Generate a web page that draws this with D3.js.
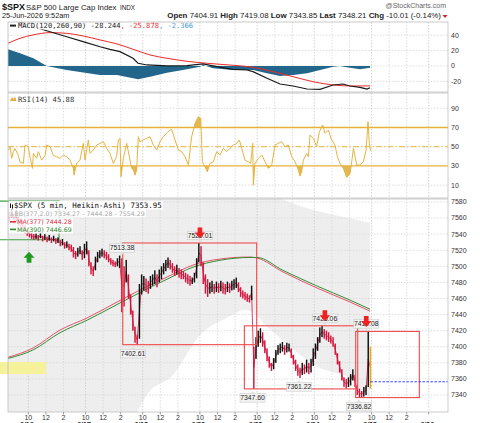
<!DOCTYPE html>
<html><head><meta charset="utf-8">
<script src="https://cdn.jsdelivr.net/npm/d3@7"></script>
<style>
html,body{margin:0;padding:0;background:#fff;}
svg{display:block;}
</style></head><body>
<svg id="c" width="480" height="423"></svg>
<script>
// ---------------- DATA ----------------
// time unit: trading hours since 6/16 09:30 (each session = 6.5 h)
const dayLabels = ["6/16","6/17","6/18","6/22","6/23","6/24","6/25","6/26"];
const tickHours = [0.5, 2.5, 4.5];
const tickText = ["10","12","2"];
const priceTicks = [7340,7360,7380,7400,7420,7440,7460,7480,7500,7520,7540,7560,7580];
const macdTicks = [-20,0,20,40];
const rsiTicks = [10,30,50,70,90];

// 15-minute Heikin-Ashi bars (high / low), first bar starts 6/15 14:15
const firstBarStart = -1.75, barHours = 0.25;
const hi615 = [7568,7572,7565,7570,7562,7560,7556];
const lo615 = [7556,7560,7552,7556,7550,7548,7545];
const hi616 = [7552,7547,7544,7542,7540,7541,7539,7542,7538,7540,7537,7539,7536,7538,7535,7536,7533,7534,7530,7531,7528,7527,7524,7519,7523,7525];
const lo616 = [7541,7538,7536,7534,7533,7534,7532,7535,7531,7533,7530,7532,7529,7531,7528,7529,7525,7526,7522,7523,7520,7518,7511,7509,7512,7515];
const hi617 = [7520,7528,7531,7520,7505,7500,7512,7518,7520,7522,7520,7518,7515,7510,7508,7506,7510,7513.38,7510,7500,7508,7490,7465,7445,7425,7415];
const lo617 = [7508,7510,7515,7500,7490,7488,7495,7505,7510,7512,7510,7508,7505,7502,7500,7499,7500,7498,7443,7450,7480,7460,7440,7420,7405,7402.61];
const hi618 = [7478,7490,7488,7485,7482,7488,7490,7495,7490,7496,7500,7504,7508,7511,7508,7504,7500,7502,7498,7496,7494,7492,7490,7488,7486,7492];
const lo618 = [7410,7465,7470,7468,7466,7472,7476,7478,7474,7480,7484,7490,7494,7498,7496,7492,7488,7490,7486,7484,7484,7480,7478,7476,7478,7480];
const hi622 = [7510,7529.01,7525,7505,7490,7484,7480,7482,7478,7481,7479,7482,7480,7478,7481,7479,7482,7484,7486,7480,7474,7470,7468,7466,7464,7476];
const lo622 = [7485,7505,7500,7478,7466,7462,7466,7468,7466,7468,7467,7469,7466,7465,7468,7467,7470,7471,7473,7468,7462,7460,7458,7456,7455,7458];
const hi623 = [7400,7412,7420,7423,7418,7408,7398,7388,7380,7386,7396,7402,7404,7406,7402,7405,7404,7398,7390,7384,7378,7374,7380,7378,7384,7380];
const lo623 = [7347.6,7385,7400,7405,7400,7392,7382,7374,7370,7372,7380,7390,7392,7394,7390,7393,7394,7386,7378,7370,7364,7361.22,7365,7366,7368,7366];
const hi624 = [7385,7398,7404,7412,7424,7426.06,7422,7420,7418,7414,7412,7404,7392,7382,7372,7362,7360,7362,7366,7372,7365,7352,7348,7345,7350,7352];
const lo624 = [7368,7376,7385,7395,7405,7412,7410,7408,7406,7404,7400,7390,7378,7368,7358,7350,7348,7350,7352,7358,7350,7340,7337,7336.82,7338,7340];
const hi625 = [7419.08,7400];
const lo625 = [7350,7348];
const lastLevel = 7356.5;

// moving averages / bollinger bands: [time, value]
const ma377 = [[-1.81,7386.9],[1.03,7398.4],[4.10,7420.8],[7.17,7435.8],[10.58,7455.6],[13.19,7470.6],[16.26,7486.7],[19.22,7501.6],[22.28,7509.1],[25.69,7511.6],[26.49,7510.3],[29.44,7493],[33.31,7473],[37.06,7455.6],[39.33,7444.28]];
const ma390 = [[-1.81,7385.5],[1.03,7396],[4.10,7417.5],[7.17,7433],[10.58,7452.5],[13.19,7467.5],[16.26,7484],[19.22,7499],[22.28,7507.5],[25.69,7511],[26.49,7511],[29.44,7495],[33.31,7475.5],[37.06,7458],[39.33,7446.69]];
const bbUpper = [[-1.81,7700],[10,7660],[20.01,7600],[23.08,7590],[26.03,7592],[28.8,7585],[31.37,7575],[35.13,7564],[39.33,7554.29]];
const bbLower = [[-1.81,7250],[8.65,7280],[12.82,7318],[13.95,7340],[16.94,7365],[20.01,7414.6],[23.08,7436],[25.13,7445.7],[26.03,7443],[27.63,7425],[29.44,7408],[31.37,7390],[33.31,7375],[35.13,7368],[36.7,7363],[37.63,7356],[38.42,7345],[39.33,7334.27]];

// MACD(120,260,90)
const macdLine = [[-1.81,62],[2.02,47.7],[4.86,38],[6.72,31.6],[8.65,25],[9.78,21.6],[10.92,18.6],[12.4,10],[12.97,3.5],[13.99,1.3],[16.26,0],[18.53,0.4],[20.35,2.6],[21.94,-0.9],[23.76,-4.3],[25.35,-5.2],[26.03,-7.4],[27.63,-16],[29.1,-23.4],[30.58,-26],[32.17,-29.9],[33.65,-30.3],[35.13,-24.7],[36.26,-23.4],[37.06,-26],[38.19,-27.7],[38.99,-29.9],[39.33,-28.244]];
const macdSignal = [[-1.81,29.4],[-0.44,36],[1.03,40.3],[2.97,43.3],[4.86,42.4],[6.72,39],[8.65,33.8],[10.58,28.6],[12.4,21.7],[14.33,14.3],[16.26,10],[18.53,6.1],[20.81,3.5],[23.76,0.9],[26.03,-1.7],[28.31,-7.4],[30.58,-13.9],[32.85,-20.4],[35.13,-24.7],[37.4,-26],[39.33,-25.878]];
const macdHist = [[-1.81,21.7],[-0.44,16.5],[1.07,9.9],[2.6,0],[4.86,-5.2],[8.65,-11.7],[10.58,-11.7],[12.97,-17.3],[14.33,-13.9],[16.26,-8.7],[18.53,-4.3],[20.01,-0.9],[20.35,1.3],[21.49,-3],[23.76,-5.2],[26.03,-5.2],[27.63,-9.5],[29.1,-13],[30.58,-11.7],[32.17,-9.5],[33.65,-5.2],[35.13,-0.9],[35.92,0],[36.7,-1.7],[38.19,-4.3],[39.33,-2.366]];

// RSI(14)
const rsi = [[-1.77,46.5],[-1.58,50],[-1.39,38],[-1.20,45],[-1.01,48],[-0.63,41],[-0.44,34],[-0.06,32.6],[0.12,51.7],[0.50,50],[0.69,39.6],[0.96,27.4],[1.07,43],[1.45,38],[1.64,44.8],[2.02,36],[2.40,41],[2.59,51.7],[2.97,50],[3.34,41],[3.72,39.6],[4.10,37.8],[4.48,41.3],[4.86,39.6],[5.24,36],[5.62,27.4],[5.69,20.4],[6.00,32.6],[6.37,36],[6.75,53.5],[6.94,36],[7.32,57],[7.51,43],[7.89,46.5],[8.27,51.7],[8.65,53.5],[9.03,55.2],[9.41,48.3],[9.78,43],[10.16,32.6],[10.54,39.6],[10.73,57],[10.92,58.7],[11.03,18.7],[11.30,37.8],[11.68,53.5],[11.98,39.6],[12.25,27.4],[12.44,25.7],[12.62,20.4],[12.81,25.7],[13.00,60.4],[13.19,55.2],[13.57,57],[13.95,58.7],[14.33,60.4],[14.71,51.7],[15.09,46.5],[15.47,55.2],[15.84,60.4],[16.22,64],[16.60,67.4],[16.79,68],[17.17,57],[17.55,46.5],[17.93,44.8],[18.31,39.6],[18.69,30.9],[19.06,60.4],[19.44,74.3],[19.82,81.3],[20.09,79.6],[20.28,34.3],[20.58,29.1],[20.84,23.9],[21.15,32.6],[21.53,34.3],[21.90,44.8],[22.28,41.3],[22.66,48.3],[23.04,44.8],[23.42,48.3],[23.80,51.7],[24.18,53.5],[24.48,57],[24.75,48.3],[25.12,36],[25.50,34.3],[25.77,32.6],[26.00,53.5],[26.07,10],[26.26,32.6],[26.64,37.8],[27.02,41.3],[27.40,34.3],[27.78,27.4],[28.16,30.9],[28.53,51.7],[28.91,53.5],[29.29,55.2],[29.67,50],[30.05,51.7],[30.43,39.6],[30.81,34.3],[31.19,25.7],[31.37,19.4],[31.56,23.9],[31.75,36],[32.13,43],[32.32,39.6],[32.51,62.2],[32.89,58.7],[33.27,50],[33.57,65.6],[33.95,72.6],[34.22,63.9],[34.59,67.4],[34.97,57],[35.35,51.7],[35.62,39.6],[35.92,32.6],[36.30,27.4],[36.68,18],[37.06,22.2],[37.25,34.3],[37.44,48.3],[37.82,30.9],[38.19,30.9],[38.57,34.3],[38.88,46.5],[39.10,76.1],[39.25,53.5],[39.40,45.88]];

// annotations
const peakLabels = [{t:11.15,v:7513.38,arrow:false},{t:20.0,v:7529.01,arrow:true},{t:34.2,v:7426.06,arrow:true},{t:38.9,v:7419.08,arrow:true}];
const troughLabels = [{t:12.4,v:7402.61},{t:25.98,v:7347.60},{t:31.26,v:7361.22},{t:38.08,v:7336.82}];
const redBoxes = [{t0:11.23,t1:26.45,hi:7529.01,lo:7402.61},{t0:25.05,t1:37.93,hi:7426.06,lo:7347.60},{t0:37.70,t1:44.93,hi:7419.08,lo:7336.82}];
const greenBox = {t0:-4.5,t1:3.99,hi:7581,lo:7533};
const yellowZone = {t0:-4.5,t1:2.51,hi:7381,lo:7366};
const buyArrow = {t:0.58,v:7518};

// ---------------- SCALES ----------------
const L = 8, R = 448;
const P = {macd:[22,92], rsi:[93,198], price:[199,412]};
const x = d3.scaleLinear().domain([-1.81,48.19]).range([L,R]);
const yM = d3.scaleLinear().domain([-33.8,57.1]).range([P.macd[1],P.macd[0]]);
const yR = d3.scaleLinear().domain([-3.4,105.9]).range([P.rsi[1],P.rsi[0]]);
const yP = d3.scaleLinear().domain([7318.9,7583.7]).range([P.price[1],P.price[0]]);

const svg = d3.select("#c");
const SANS = "'Liberation Sans',Arial,sans-serif";
const MONO = "'DejaVu Sans Mono',monospace";
const VER = "'DejaVu Sans',Verdana,sans-serif";
const defs = svg.append("defs");
function clip(id, y0, y1, x0=L, x1=R){
  defs.append("clipPath").attr("id",id).append("rect").attr("x",x0).attr("y",y0).attr("width",x1-x0).attr("height",y1-y0);
  return "url(#"+id+")";
}
const cM = clip("cm",P.macd[0],P.macd[1]);
const cR = clip("cr",P.rsi[0],P.rsi[1]);
const cP = clip("cp",P.price[0],P.price[1]);

// ---------------- HEADER ----------------
const hdr = svg.append("g");
hdr.append("text").attr("x",2).attr("y",10).attr("font-family",SANS).attr("font-weight","bold").attr("font-size",9).attr("fill","#111").text("$SPX");
hdr.append("text").attr("x",26).attr("y",10).attr("font-family",SANS).attr("font-size",7.8).attr("fill","#222").text("S&P 500 Large Cap Index");
hdr.append("text").attr("x",120).attr("y",10).attr("font-family",SANS).attr("font-size",6.3).attr("fill","#222").text("INDX");
hdr.append("text").attr("x",2).attr("y",18).attr("font-family",SANS).attr("font-size",7.3).attr("fill","#222").text("25-Jun-2026 9:52am");
hdr.append("text").attr("x",446).attr("y",8).attr("text-anchor","end").attr("font-family",SANS).attr("font-size",7).attr("fill","#666").text("@StockCharts.com");
const ohlc = hdr.append("text").attr("x",441).attr("y",18).attr("text-anchor","end").attr("font-family",SANS).attr("font-size",7.9).attr("fill","#222");
[["Open","7404.91"],["High","7419.08"],["Low","7343.85"],["Last","7348.21"],["Chg","-10.01 (-0.14%)"]].forEach((p,i)=>{
  ohlc.append("tspan").attr("font-weight","bold").text((i?" ":"")+p[0]);
  ohlc.append("tspan").text(" "+p[1]);
});
hdr.append("path").attr("d",`M442.5,15 L447.5,15 L445,18 Z`).attr("fill","#e02020");

// ---------------- PANEL BACKGROUNDS ----------------
Object.values(P).forEach(p=>{
  svg.append("rect").attr("x",L).attr("y",p[0]).attr("width",R-L).attr("height",p[1]-p[0]).attr("fill","#fff");
});

// Bollinger band fill (price panel)
const gP = svg.append("g").attr("clip-path",cP);
gP.append("path").datum(bbUpper).attr("fill","#eeeeee")
  .attr("d",d3.area().x(d=>x(d[0])).y0(P.price[1]+5).y1(d=>yP(d[1])).curve(d3.curveMonotoneX));
gP.append("path").datum(bbLower).attr("fill","#ffffff")
  .attr("d",d3.area().x(d=>x(d[0])).y0(P.price[1]+5).y1(d=>yP(d[1])).curve(d3.curveMonotoneX));

// ---------------- GRID ----------------
const gridT = [];
dayLabels.forEach((d,i)=>{
  tickHours.forEach((h,j)=>{
    const t = i*6.5+h;
    if (i===dayLabels.length-1 && j>0) return;
    gridT.push({t, label: (i===dayLabels.length-1)?null:tickText[j], first:j===0, day:d});
  });
});
const grid = svg.append("g");
Object.values(P).forEach(p=>{
  gridT.forEach(g=>{
    grid.append("line").attr("x1",x(g.t)).attr("x2",x(g.t)).attr("y1",p[0]).attr("y2",p[1])
      .attr("stroke",g.first?"#c8c8c8":"#d6d6d6").attr("stroke-width",0.8).attr("stroke-dasharray","1.5,1.5");
  });
});
function hgrid(ticks, y){
  ticks.forEach(v=>{
    grid.append("line").attr("x1",L).attr("x2",R).attr("y1",y(v)).attr("y2",y(v))
      .attr("stroke","#d6d6d6").attr("stroke-width",0.8).attr("stroke-dasharray","1.5,1.5");
  });
}
hgrid(priceTicks, yP); hgrid(macdTicks, yM); hgrid([10,90], yR);

// ---------------- MACD ----------------
const gM = svg.append("g").attr("clip-path",cM);
gM.append("path").datum(macdHist).attr("fill","#22668b")
  .attr("d",d3.area().x(d=>x(d[0])).y0(yM(0)).y1(d=>yM(d[1])));
gM.append("path").datum(macdSignal).attr("fill","none").attr("stroke","#f02a2a").attr("stroke-width",1)
  .attr("d",d3.line().x(d=>x(d[0])).y(d=>yM(d[1])).curve(d3.curveMonotoneX));
gM.append("path").datum(macdLine).attr("fill","none").attr("stroke","#1a1a1a").attr("stroke-width",1.2)
  .attr("d",d3.line().x(d=>x(d[0])).y(d=>yM(d[1])));

// ---------------- RSI ----------------
const gR = svg.append("g").attr("clip-path",cR);
const rsiGold = "#e8b23a";
defs.append("clipPath").attr("id","r70").append("rect").attr("x",L).attr("y",P.rsi[0]).attr("width",R-L).attr("height",yR(70)-P.rsi[0]);
defs.append("clipPath").attr("id","r30").append("rect").attr("x",L).attr("y",yR(30)).attr("width",R-L).attr("height",P.rsi[1]-yR(30));
gR.append("path").datum(rsi).attr("clip-path","url(#r70)").attr("fill","#d9a62a").attr("fill-opacity",0.8)
  .attr("d",d3.area().x(d=>x(d[0])).y0(yR(70)).y1(d=>yR(d[1])));
gR.append("path").datum(rsi).attr("clip-path","url(#r30)").attr("fill","#d9a62a").attr("fill-opacity",0.8)
  .attr("d",d3.area().x(d=>x(d[0])).y0(yR(30)).y1(d=>yR(d[1])));
[70,30].forEach(v=>gR.append("line").attr("x1",L).attr("x2",R).attr("y1",yR(v)).attr("y2",yR(v)).attr("stroke",rsiGold).attr("stroke-width",1.3));
gR.append("line").attr("x1",L).attr("x2",R).attr("y1",yR(50)).attr("y2",yR(50)).attr("stroke",rsiGold).attr("stroke-width",1).attr("stroke-dasharray","6,2,1.5,2");
gR.append("path").datum(rsi).attr("fill","none").attr("stroke","#e6b440").attr("stroke-width",1)
  .attr("d",d3.line().x(d=>x(d[0])).y(d=>yR(d[1])));

// ---------------- PRICE ----------------
svg.append("rect").attr("x",x(yellowZone.t0)).attr("y",yP(yellowZone.hi)).attr("width",x(yellowZone.t1)-x(yellowZone.t0)).attr("height",yP(yellowZone.lo)-yP(yellowZone.hi)).attr("fill","#f6f29c");
svg.append("path").attr("fill","none").attr("stroke","#3fa045").attr("stroke-width",1.1)
  .attr("d",`M${x(greenBox.t0)},${yP(greenBox.hi)} L${x(greenBox.t1)},${yP(greenBox.hi)} L${x(greenBox.t1)},${yP(greenBox.lo)} L${x(greenBox.t0)},${yP(greenBox.lo)}`);

const gP2 = svg.append("g").attr("clip-path",cP);
gP2.append("path").datum(ma377).attr("fill","none").attr("stroke","#e8506e").attr("stroke-width",1)
  .attr("d",d3.line().x(d=>x(d[0])).y(d=>yP(d[1])).curve(d3.curveMonotoneX));
gP2.append("path").datum(ma390).attr("fill","none").attr("stroke","#2f8f2f").attr("stroke-width",1)
  .attr("d",d3.line().x(d=>x(d[0])).y(d=>yP(d[1])).curve(d3.curveMonotoneX));

const highs = [].concat(hi615,hi616,hi617,hi618,hi622,hi623,hi624,hi625);
const lows = [].concat(lo615,lo616,lo617,lo618,lo622,lo623,lo624,lo625);
const bars = highs.map((h,i)=>({t:firstBarStart+barHours*(i+0.5), hi:h, lo:lows[i]}));
bars.forEach((b,i)=>{
  const mid=(b.hi+b.lo)/2, pm = i? (bars[i-1].hi+bars[i-1].lo)/2 : mid+1;
  b.col = i===bars.length-1 ? "#f2a31b" : (mid>=pm ? "#111111" : "#d4143c");
});
const bw = x(barHours)-x(0);
// thin connecting line through bar mids (Heikin-Ashi bodies overlap)
gP2.append("path").datum(bars).attr("fill","none").attr("stroke","#d4143c").attr("stroke-width",0.8)
  .attr("d",d3.line().x(d=>x(d.t)).y(d=>yP((d.hi+d.lo)/2)));
gP2.selectAll("rect.bar").data(bars).enter().append("rect").attr("class","bar")
  .attr("x",d=>x(d.t)-bw*0.33).attr("width",bw*0.66)
  .attr("y",d=>yP(d.hi)).attr("height",d=>Math.max(1,yP(d.lo)-yP(d.hi)))
  .attr("fill",d=>d.col);

// red boxes
svg.selectAll("rect.box").data(redBoxes).enter().append("rect").attr("class","box")
  .attr("x",d=>x(d.t0)).attr("y",d=>yP(d.hi)).attr("width",d=>x(d.t1)-x(d.t0)).attr("height",d=>yP(d.lo)-yP(d.hi))
  .attr("fill","none").attr("stroke","#f04a4a").attr("stroke-width",1.1);

// last level line
svg.append("line").attr("x1",x(bars[bars.length-1].t)).attr("x2",R).attr("y1",yP(lastLevel)).attr("y2",yP(lastLevel))
  .attr("stroke","#2233ee").attr("stroke-width",0.9).attr("stroke-dasharray","2.5,1.5");

// buy arrow
(function(){
  const cx=x(buyArrow.t), ty=yP(buyArrow.v);
  svg.append("path").attr("fill","#1f9a1f")
    .attr("d",`M${cx},${ty} L${cx+5.5},${ty+6} L${cx+2.4},${ty+6} L${cx+2.4},${ty+11} L${cx-2.4},${ty+11} L${cx-2.4},${ty+6} L${cx-5.5},${ty+6} Z`);
})();

function valueLabel(t, v, above){
  const cx = x(t), py = yP(v);
  const cy = above ? py-7.5 : py+9;
  const w = 25, h = 8.5;
  const g = svg.append("g");
  g.append("rect").attr("x",cx-w/2).attr("y",cy-h/2).attr("width",w).attr("height",h)
    .attr("fill","#f3f3f3").attr("stroke","#cccccc").attr("stroke-width",0.6);
  if (above) g.append("path").attr("d",`M${cx-2.5},${cy+h/2} L${cx},${cy+h/2+2.5} L${cx+2.5},${cy+h/2} Z`).attr("fill","#e0e0e0");
  else g.append("path").attr("d",`M${cx-2.5},${cy-h/2} L${cx},${cy-h/2-2.5} L${cx+2.5},${cy-h/2} Z`).attr("fill","#e0e0e0");
  g.append("text").attr("x",cx).attr("y",cy+2.4).attr("text-anchor","middle").attr("font-family",SANS)
    .attr("font-size",6.8).attr("fill","#222").text(v.toFixed(2));
}
peakLabels.forEach(d=>valueLabel(d.t,d.v,true));
troughLabels.forEach(d=>valueLabel(d.t,d.v,false));
peakLabels.filter(d=>d.arrow).forEach(d=>{
  const cx=x(d.t), tip=yP(d.v)-4.5, top=tip-11;
  svg.append("path").attr("fill","#ee2020")
    .attr("d",`M${cx-2.3},${top} L${cx+2.3},${top} L${cx+2.3},${top+5} L${cx+5.3},${top+5} L${cx},${tip} L${cx-5.3},${top+5} L${cx-2.3},${top+5} Z`);
});

// ---------------- LEGENDS ----------------
svg.append("rect").attr("x",9).attr("y",22.5).attr("width",188).attr("height",7).attr("fill","#fff").attr("fill-opacity",0.9);
svg.append("rect").attr("x",10).attr("y",24.6).attr("width",6).attr("height",2).attr("fill","#222");
const mt = svg.append("text").attr("x",18).attr("y",28.3).attr("font-family",MONO).attr("font-size",7.1);
mt.append("tspan").attr("fill","#222").text("MACD(120,260,90) -28.244");
mt.append("tspan").attr("fill","#f03030").text(", -25.878");
mt.append("tspan").attr("fill","#3d9ad6").text(", -2.366");
svg.append("path").attr("d","M10,101 L12,97 L13.5,99 L15,96.5 L16.5,101 Z").attr("fill","#e0b040");
svg.append("text").attr("x",18).attr("y",101.5).attr("font-family",MONO).attr("font-size",7.2).attr("fill","#333").text("RSI(14) 45.88");
svg.append("rect").attr("x",9).attr("y",201).attr("width",154).attr("height",8.5).attr("fill","#fff").attr("fill-opacity",0.9);
svg.append("rect").attr("x",9).attr("y",209.5).attr("width",137).attr("height",8).attr("fill","#fff").attr("fill-opacity",0.85);
svg.append("rect").attr("x",9).attr("y",217.5).attr("width",64).attr("height",16).attr("fill","#fff").attr("fill-opacity",0.85);
svg.append("path").attr("d","M10,203.5 L11,203.5 L11,208 L10,208 Z M12,204.5 L13,204.5 L13,208.5 L12,208.5 Z").attr("fill","#111");
svg.append("text").attr("x",14).attr("y",208.3).attr("font-family",MONO).attr("font-size",7.45).attr("fill","#111").text("$SPX (5 min, Heikin-Ashi) 7353.95");
svg.append("path").attr("d","M10,216 L12,211.5 L14,216 Z").attr("fill","#c8c8c8");
svg.append("text").attr("x",14.5).attr("y",215.8).attr("font-family",VER).attr("font-size",6.3).attr("fill","#aaaaaa").text("BB(377,2.0) 7334.27 - 7444.28 - 7554.29");
svg.append("rect").attr("x",10).attr("y",221).attr("width",6).attr("height",1.6).attr("fill","#e0304a");
svg.append("text").attr("x",17).attr("y",224.2).attr("font-family",VER).attr("font-size",6.3).attr("fill","#e0304a").text("MA(377) 7444.28");
svg.append("rect").attr("x",10).attr("y",228.6).attr("width",6).attr("height",1.6).attr("fill","#2a8a2a");
svg.append("text").attr("x",17).attr("y",231.8).attr("font-family",VER).attr("font-size",6.3).attr("fill","#2a8a2a").text("MA(390) 7446.69");

// ---------------- FRAMES & AXES ----------------
Object.values(P).forEach(p=>{
  svg.append("rect").attr("x",L).attr("y",p[0]).attr("width",R-L).attr("height",p[1]-p[0]).attr("fill","none").attr("stroke","#bdbdbd").attr("stroke-width",0.8);
});
function yLabels(ticks, y){
  ticks.forEach(v=>svg.append("text").attr("x",451).attr("y",y(v)+2.4).attr("font-family",SANS).attr("font-size",7).attr("fill","#333").text(v));
}
yLabels(priceTicks, yP); yLabels(macdTicks, yM); yLabels(rsiTicks, yR);

gridT.forEach(g=>{
  svg.append("line").attr("x1",x(g.t)).attr("x2",x(g.t)).attr("y1",P.price[1]).attr("y2",P.price[1]+2.5).attr("stroke","#888").attr("stroke-width",0.8);
  if (g.label) svg.append("text").attr("x",x(g.t)).attr("y",419.5).attr("text-anchor","middle").attr("font-family",SANS).attr("font-size",7).attr("fill","#333").text(g.label);
  if (g.first) svg.append("text").attr("x",x(g.t)-2).attr("y",427).attr("text-anchor","middle").attr("font-family",SANS).attr("font-weight","bold").attr("font-style","italic").attr("font-size",7).attr("fill","#222").text(g.day);
});
</script></body></html>
